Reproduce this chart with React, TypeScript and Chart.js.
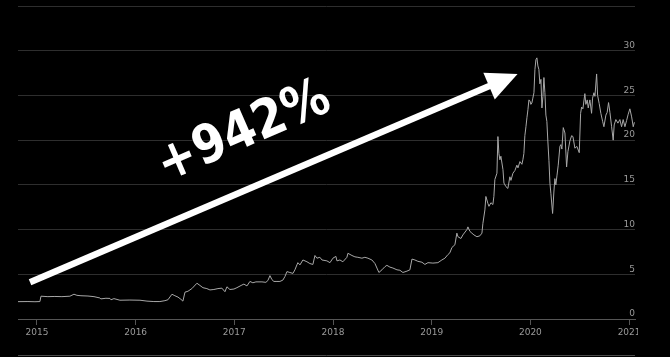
import React, { useEffect, useRef } from 'react';
import { Chart, registerables } from 'chart.js';

Chart.register(...registerables);

// Price series as [fractional year, price]
const seg2015: [number, number][] = [
  [2014.808, 1.94], [2014.909, 1.95], [2014.98, 1.93], [2015.03, 1.95], [2015.041, 2.55], [2015.111, 2.5],
  [2015.182, 2.52], [2015.253, 2.5], [2015.334, 2.55], [2015.375, 2.77], [2015.405, 2.65], [2015.446, 2.6],
  [2015.517, 2.57], [2015.578, 2.5], [2015.638, 2.35], [2015.648, 2.25], [2015.699, 2.32], [2015.74, 2.3],
  [2015.75, 2.15], [2015.78, 2.28], [2015.841, 2.1], [2015.942, 2.12],
];
const seg2016: [number, number][] = [
  [2016.044, 2.1], [2016.115, 2.0], [2016.185, 1.95], [2016.246, 1.95], [2016.297, 2.05], [2016.327, 2.15],
  [2016.368, 2.77], [2016.398, 2.6], [2016.429, 2.45], [2016.459, 2.2], [2016.479, 2.0], [2016.5, 3.0],
  [2016.53, 3.1], [2016.57, 3.4], [2016.621, 4.0], [2016.652, 3.75], [2016.682, 3.5], [2016.722, 3.4],
  [2016.753, 3.25], [2016.793, 3.3], [2016.834, 3.4], [2016.874, 3.45], [2016.905, 3.05], [2016.925, 3.6],
  [2016.955, 3.3], [2016.996, 3.35],
];
const seg2017: [number, number][] = [
  [2017.026, 3.5], [2017.077, 3.8], [2017.097, 3.9], [2017.128, 3.7], [2017.158, 4.2], [2017.188, 4.05],
  [2017.219, 4.15], [2017.28, 4.15], [2017.32, 4.1], [2017.34, 4.3], [2017.361, 4.85], [2017.381, 4.4],
  [2017.401, 4.2], [2017.432, 4.2], [2017.462, 4.2], [2017.492, 4.35], [2017.513, 4.75], [2017.533, 5.3],
  [2017.563, 5.2], [2017.594, 5.1], [2017.614, 5.5], [2017.634, 6.05], [2017.644, 6.3], [2017.665, 6.05],
  [2017.695, 6.6], [2017.736, 6.4], [2017.766, 6.2], [2017.796, 6.1], [2017.817, 7.1], [2017.837, 6.8],
  [2017.867, 6.9], [2017.888, 6.6], [2017.938, 6.5], [2017.969, 6.3], [2017.999, 6.8],
];
const seg2018: [number, number][] = [
  [2018.029, 7.0], [2018.04, 6.5], [2018.07, 6.6], [2018.1, 6.4], [2018.141, 6.9], [2018.151, 7.35],
  [2018.192, 7.1], [2018.222, 6.95], [2018.252, 6.9], [2018.293, 6.8], [2018.323, 6.9], [2018.354, 6.8],
  [2018.394, 6.6], [2018.425, 6.2], [2018.445, 5.7], [2018.465, 5.2], [2018.496, 5.5], [2018.526, 5.85],
  [2018.546, 6.0], [2018.577, 5.8], [2018.607, 5.7], [2018.648, 5.5], [2018.678, 5.45], [2018.708, 5.2],
  [2018.749, 5.35], [2018.779, 5.5], [2018.8, 6.7], [2018.83, 6.6], [2018.86, 6.45], [2018.901, 6.35],
  [2018.931, 6.1], [2018.962, 6.3],
];
const seg2019: [number, number][] = [
  [2019.012, 6.25], [2019.063, 6.3], [2019.103, 6.6], [2019.134, 6.8], [2019.164, 7.2], [2019.184, 7.4],
  [2019.205, 8.0], [2019.235, 8.3], [2019.255, 9.6], [2019.266, 9.2], [2019.296, 9.0], [2019.316, 9.4],
  [2019.357, 10.0], [2019.367, 10.3], [2019.387, 9.8], [2019.407, 9.6], [2019.428, 9.4], [2019.458, 9.2],
  [2019.488, 9.3], [2019.509, 9.6], [2019.519, 10.7], [2019.539, 12.2], [2019.549, 13.7], [2019.57, 12.9],
  [2019.58, 12.6], [2019.6, 13.0], [2019.62, 12.8], [2019.63, 13.7], [2019.64, 15.6], [2019.661, 16.3],
  [2019.671, 20.4], [2019.681, 18.5], [2019.691, 17.8], [2019.701, 18.2], [2019.722, 16.7], [2019.732, 15.2],
  [2019.752, 14.8], [2019.772, 14.6], [2019.792, 15.9], [2019.803, 15.5], [2019.823, 16.3], [2019.843, 16.6],
  [2019.863, 17.2], [2019.874, 16.9], [2019.894, 17.6], [2019.914, 17.3], [2019.924, 17.8], [2019.934, 18.5],
  [2019.944, 20.5], [2019.955, 21.5], [2019.965, 22.5], [2019.975, 23.4], [2019.985, 24.5], [2019.995, 24.4],
];
const seg2020: [number, number][] = [
  [2020.005, 24.0], [2020.015, 24.15], [2020.025, 24.7], [2020.036, 25.3], [2020.046, 27.9], [2020.056, 29.0],
  [2020.066, 29.2], [2020.076, 28.3], [2020.086, 27.9], [2020.096, 26.3], [2020.107, 26.8], [2020.117, 23.6],
  [2020.127, 24.9], [2020.137, 27.0], [2020.147, 25.3], [2020.157, 22.8], [2020.167, 22.1], [2020.177, 19.9],
  [2020.188, 17.7], [2020.198, 15.2], [2020.208, 14.0], [2020.225, 11.8], [2020.238, 14.2], [2020.248, 15.7],
  [2020.258, 15.0], [2020.269, 16.0], [2020.282, 17.2], [2020.299, 19.3], [2020.309, 19.5], [2020.319, 19.0],
  [2020.333, 21.4], [2020.35, 20.8], [2020.367, 17.0], [2020.38, 18.7], [2020.4, 19.9], [2020.418, 20.5],
  [2020.431, 20.4], [2020.451, 19.1], [2020.471, 19.3], [2020.495, 18.6], [2020.509, 23.0], [2020.519, 23.7],
  [2020.532, 23.5], [2020.552, 25.2], [2020.562, 24.0], [2020.576, 24.5], [2020.586, 23.6], [2020.603, 24.5],
  [2020.62, 23.0], [2020.63, 24.7], [2020.644, 25.3], [2020.654, 24.9], [2020.671, 27.4], [2020.681, 25.0],
  [2020.697, 24.1], [2020.714, 23.0], [2020.732, 22.1], [2020.745, 21.5], [2020.765, 22.8], [2020.778, 23.1],
  [2020.792, 24.2], [2020.806, 23.1], [2020.823, 21.5], [2020.839, 20.0], [2020.849, 21.7], [2020.866, 22.3],
  [2020.887, 21.9], [2020.907, 22.3], [2020.924, 21.5], [2020.94, 22.3], [2020.958, 21.5], [2020.975, 22.2],
  [2020.991, 22.9],
];
const seg2021: [number, number][] = [
  [2021.008, 23.5], [2021.026, 22.6], [2021.042, 21.5], [2021.054, 22.0],
];

const xRange = [2014.808, 2021.06];
const yTickValues = [0, 5, 10, 15, 20, 25, 30, 35];
const yLabelled = [0, 5, 10, 15, 20, 25, 30];
const xTickLabels = ['2015', '2016', '2017', '2018', '2019', '2020', '2021'];

// Annotation (in data coordinates)
const arrowFrom = [2014.93, 4.1];
const arrowTo = [2019.87, 27.4];
const gainText = '+942%';
const gainAt = [2017.1, 20.8];

const series = [...seg2015, ...seg2016, ...seg2017, ...seg2018, ...seg2019, ...seg2020, ...seg2021];

const annotationPlugin = {
  id: 'gainAnnotation',
  afterDraw(chart: any) {
    const { ctx, scales, chartArea } = chart;
    const xs = scales.x;
    const ys = scales.y;
    ctx.save();
    // bottom rule
    ctx.strokeStyle = '#4a4a4a';
    ctx.lineWidth = 1;
    ctx.beginPath();
    ctx.moveTo(chartArea.left, chart.height - 1.5);
    ctx.lineTo(chartArea.right, chart.height - 1.5);
    ctx.stroke();

    // arrow
    const x1 = xs.getPixelForValue(arrowFrom[0]);
    const y1 = ys.getPixelForValue(arrowFrom[1]);
    const x2 = xs.getPixelForValue(arrowTo[0]);
    const y2 = ys.getPixelForValue(arrowTo[1]);
    const ang = Math.atan2(y2 - y1, x2 - x1);
    const c = Math.cos(ang);
    const s = Math.sin(ang);
    const headLen = 31;
    const headHalf = 14.5;
    const bx = x2 - headLen * c;
    const by = y2 - headLen * s;
    ctx.strokeStyle = '#ffffff';
    ctx.fillStyle = '#ffffff';
    ctx.lineWidth = 6.5;
    ctx.lineCap = 'butt';
    ctx.beginPath();
    ctx.moveTo(x1, y1);
    ctx.lineTo(bx + c, by + s);
    ctx.stroke();
    ctx.beginPath();
    ctx.moveTo(x2, y2);
    ctx.lineTo(bx - headHalf * s, by + headHalf * c);
    ctx.lineTo(bx + headHalf * s, by - headHalf * c);
    ctx.closePath();
    ctx.fill();

    // text
    const tx = xs.getPixelForValue(gainAt[0]);
    const ty = ys.getPixelForValue(gainAt[1]);
    ctx.translate(tx, ty);
    ctx.rotate((-23.5 * Math.PI) / 180);
    ctx.scale(0.88, 1);
    ctx.font = 'bold 53px "DejaVu Sans"';
    ctx.textAlign = 'center';
    ctx.textBaseline = 'middle';
    ctx.fillText(gainText, 0, 0);
    ctx.restore();
  },
};

export default function App() {
  const canvasRef = useRef<HTMLCanvasElement | null>(null);

  useEffect(() => {
    const canvas = canvasRef.current;
    if (!canvas) return;
    const chart = new Chart(canvas, {
      type: 'line',
      data: {
        datasets: [
          {
            data: series.map(([x, y]) => ({ x, y })),
            borderColor: '#a8a8a8',
            borderWidth: 1,
            pointRadius: 0,
            tension: 0,
            fill: false,
          },
        ],
      },
      options: {
        responsive: false,
        animation: false,
        devicePixelRatio: 1,
        layout: { padding: { left: 18, top: 6, right: 35, bottom: 0 } },
        plugins: {
          legend: { display: false },
          tooltip: { enabled: false },
        },
        scales: {
          x: {
            type: 'linear',
            position: 'bottom',
            min: xRange[0],
            max: xRange[1],
            afterFit: (scale: any) => {
              scale.height = 38;
            },
            grid: {
              display: true,
              drawOnChartArea: false,
              drawTicks: true,
              tickLength: 6,
              color: '#555555',
            },
            border: { display: true, color: '#555555' },
            ticks: {
              stepSize: 1,
              includeBounds: false,
              autoSkip: false,
              maxRotation: 0,
              padding: 2,
              color: '#9a9a9a',
              font: { family: '"DejaVu Sans"', size: 9 },
              callback: (v: any) => {
                const label = String(Math.round(Number(v)));
                return xTickLabels.includes(label) ? label : '';
              },
            },
          },
          y: {
            type: 'linear',
            position: 'right',
            min: yTickValues[0],
            max: yTickValues[yTickValues.length - 1],
            grid: { color: '#2e2e2e', drawTicks: false },
            border: { display: false },
            ticks: {
              stepSize: 5,
              mirror: true,
              padding: 0,
              labelOffset: -5,
              color: '#9a9a9a',
              font: { family: '"DejaVu Sans"', size: 9 },
              callback: (v: any) => (yLabelled.includes(Number(v)) ? String(v) : ''),
            },
          },
        },
      },
      plugins: [annotationPlugin],
    });
    return () => chart.destroy();
  }, []);

  return (
    <div
      style={{
        position: 'fixed',
        left: 0,
        top: 0,
        width: 670,
        height: 357,
        background: '#000',
        overflow: 'hidden',
      }}
    >
      <div style={{ width: 638, height: 357, overflow: 'hidden' }}>
        <canvas ref={canvasRef} width={670} height={357} style={{ display: 'block', width: 670, height: 357 }} />
      </div>
    </div>
  );
}
